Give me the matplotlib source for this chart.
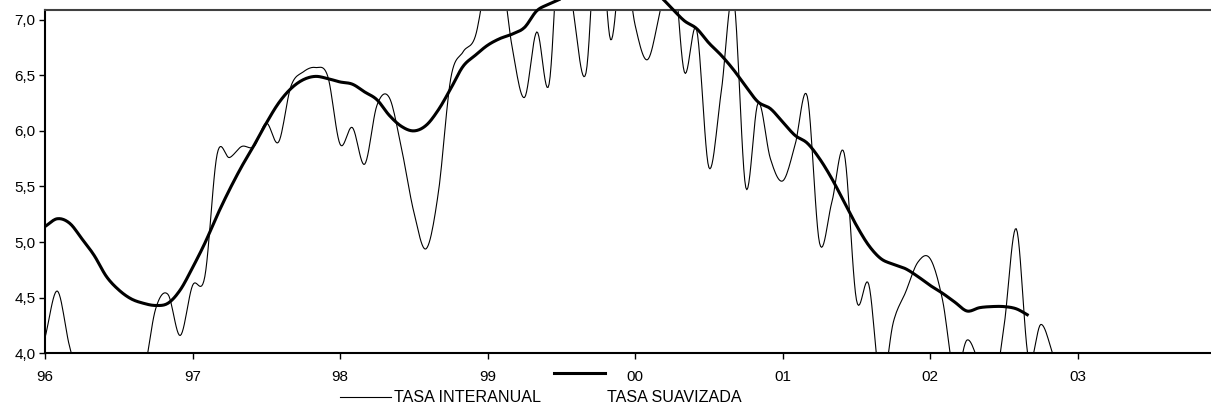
import numpy as np
import matplotlib
matplotlib.use("Agg")
import matplotlib.pyplot as plt
from matplotlib.lines import Line2D
from matplotlib.ticker import FixedLocator, FuncFormatter

plt.rcParams["font.family"] = ["Liberation Sans", "DejaVu Sans"]

# ── Data: monthly, starting January 1996 ──────────────────────────────────────
year_labels = ["96", "97", "98", "99", "00", "01", "02", "03"]

interanual = [
    4.14, 4.56, 4.06, 3.70, 3.50, 3.40, 3.45, 3.60, 3.80, 4.40, 4.53, 4.16,   # 96
    4.61, 4.69, 5.79, 5.76, 5.86, 5.86, 6.07, 5.90, 6.40, 6.53, 6.57, 6.49,   # 97
    5.88, 6.03, 5.70, 6.23, 6.30, 5.84, 5.27, 4.94, 5.45, 6.47, 6.71, 6.85,   # 98
    7.40, 7.50, 6.75, 6.30, 6.89, 6.42, 8.00, 7.05, 6.52, 8.00, 6.82, 7.60,   # 99
    6.95, 6.64, 7.06, 7.60, 6.53, 6.91, 5.67, 6.35, 7.20, 5.49, 6.25, 5.75,   # 00
    5.55, 5.87, 6.31, 4.99, 5.36, 5.80, 4.48, 4.62, 3.70, 4.28, 4.55, 4.82,   # 01
    4.85, 4.48, 3.80, 4.12, 3.90, 3.60, 4.24, 5.12, 3.95, 4.26, 3.98, 3.60,   # 02
]

suavizada = [
    5.14, 5.21, 5.17, 5.03, 4.88, 4.69, 4.57, 4.49, 4.45, 4.43, 4.45, 4.57,   # 96
    4.77, 4.99, 5.24, 5.47, 5.68, 5.87, 6.07, 6.25, 6.38, 6.46, 6.49, 6.47,   # 97
    6.44, 6.42, 6.35, 6.28, 6.14, 6.04, 6.00, 6.05, 6.19, 6.38, 6.58, 6.68,   # 98
    6.77, 6.83, 6.87, 6.93, 7.08, 7.14, 7.19, 7.25, 7.31, 7.36, 7.38, 7.36,   # 99
    7.32, 7.27, 7.21, 7.10, 6.99, 6.92, 6.79, 6.68, 6.55, 6.40, 6.26, 6.20,   # 00
    6.08, 5.96, 5.89, 5.75, 5.57, 5.36, 5.15, 4.97, 4.85, 4.80, 4.76, 4.69,   # 01
    4.61, 4.54, 4.46, 4.38, 4.41, 4.42, 4.42, 4.40, 4.34,                     # 02
]


def smooth(y, steps=12):
    """Catmull-Rom curve through the points (like a spreadsheet 'smoothed line')."""
    y = np.asarray(y, dtype=float)
    x = np.arange(len(y), dtype=float)
    p = np.concatenate([[2 * y[0] - y[1]], y, [2 * y[-1] - y[-2]]])
    xs, ys = [], []
    t = np.linspace(0, 1, steps, endpoint=False)
    for i in range(len(y) - 1):
        p0, p1, p2, p3 = p[i], p[i + 1], p[i + 2], p[i + 3]
        seg = 0.5 * ((2 * p1) + (-p0 + p2) * t
                     + (2 * p0 - 5 * p1 + 4 * p2 - p3) * t ** 2
                     + (-p0 + 3 * p1 - 3 * p2 + p3) * t ** 3)
        xs.append(x[i] + t)
        ys.append(seg)
    xs.append([x[-1]])
    ys.append([y[-1]])
    return np.concatenate(xs), np.concatenate(ys)


# ── Plot ──────────────────────────────────────────────────────────────────────
W, H = 1211, 407
fig = plt.figure(figsize=(W / 100, H / 100), dpi=100)
ax = fig.add_axes([45 / W, (H - 353.3) / H, (1213 - 45) / W, (353.3 - 10) / H])

xi, yi = smooth(interanual)
ax.plot(xi, yi, color="black", lw=0.8, zorder=2)
xs, ys = smooth(suavizada)
ax.plot(xs, ys, color="black", lw=2.2, zorder=3, clip_on=False,
        solid_capstyle="butt")

ax.set_xlim(0, 95)
ax.set_ylim(4.0, 7.087)

ax.xaxis.set_major_locator(FixedLocator(np.arange(0, 96, 12)))
ax.set_xticklabels(year_labels)
ax.yaxis.set_major_locator(FixedLocator(np.arange(4.0, 7.01, 0.5)))
ax.yaxis.set_major_formatter(FuncFormatter(lambda v, _: f"{v:.1f}".replace(".", ",")))

ax.tick_params(axis="x", direction="out", length=4, width=1, pad=8,
               labelsize=11, colors="black")
ax.tick_params(axis="y", direction="out", length=4, width=1, pad=3,
               labelsize=11, colors="black")

for side in ["left", "bottom"]:
    ax.spines[side].set_linewidth(1.5)
    ax.spines[side].set_color("black")
ax.spines["top"].set_linewidth(1.5)
ax.spines["top"].set_color("#404040")
ax.spines["right"].set_visible(False)

# ── Legend (below the axis, drawn in figure pixels) ──────────────────────────
def fx(px):
    return px / W


def fy(py):
    return 1 - py / H


fig.add_artist(Line2D([fx(340), fx(391)], [fy(397), fy(397)], color="black", lw=0.8))
fig.text(fx(394), fy(397), "TASA INTERANUAL", fontsize=11.6, va="center", ha="left")
fig.add_artist(Line2D([fx(554), fx(605)], [fy(373), fy(373)], color="black", lw=2.2))
fig.text(fx(607), fy(397), "TASA SUAVIZADA", fontsize=11.6, va="center", ha="left")

fig.savefig("out.png", dpi=100)
plt.close(fig)
